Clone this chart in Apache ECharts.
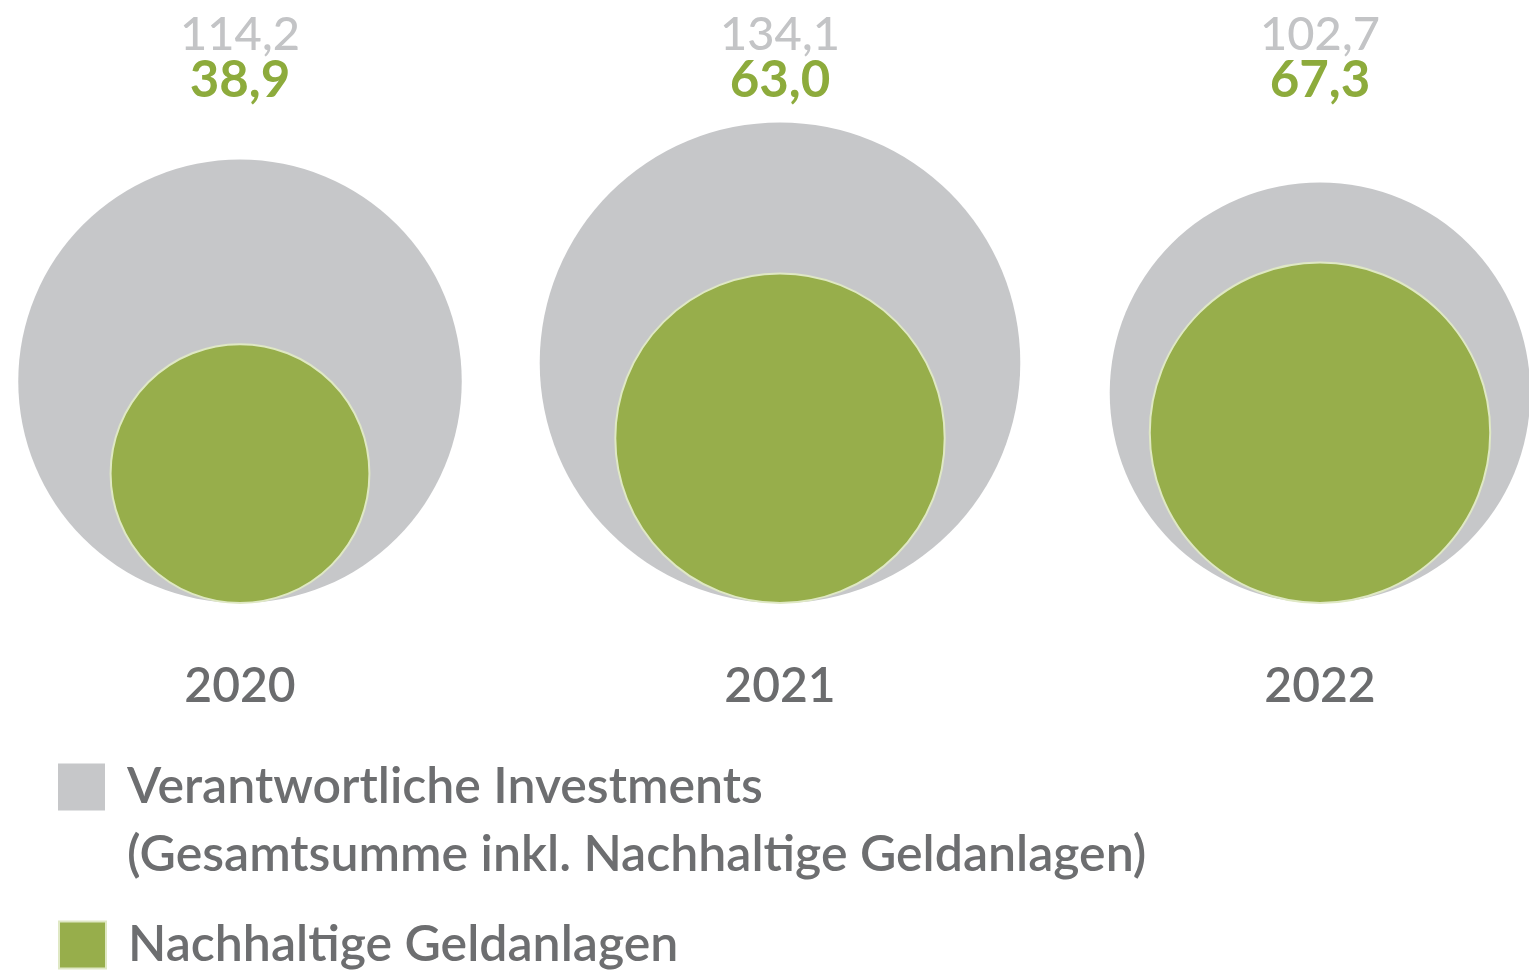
<!DOCTYPE html>
<html>
<head>
<meta charset="utf-8">
<script src="https://cdn.jsdelivr.net/npm/echarts@6/dist/echarts.min.js"></script>
<style>
  html, body { margin: 0; padding: 0; background: #ffffff; }
  #chart { width: 1529px; height: 971px; }
</style>
</head>
<body>
<div id="chart"></div>
<script>
// Jahre und Volumen (Mrd. Euro)
const years = ['2020', '2021', '2022'];
const totalInvest = [114.2, 134.1, 102.7];   // Verantwortliche Investments
const sustainable = [38.9, 63.0, 67.3];      // Nachhaltige Geldanlagen

const GREY = '#c6c7c9';
const GREEN = '#97ae4b';
const SIZE_K = 41.5; // Durchmesser ~ sqrt(Wert) -> Fläche proportional

function fmt (v) {
  return v.toFixed(1).replace('.', ',');
}

const chart = echarts.init(document.getElementById('chart'));

chart.setOption({
  backgroundColor: '#ffffff',
  animation: false,
  textStyle: { fontFamily: 'Lato' },
  grid: {
    left: -30,
    right: -61,
    top: 112,
    bottom: 368,
    outerBoundsMode: 'none',
    containLabel: false
  },
  xAxis: [{
    type: 'category',
    data: years,
    position: 'bottom',
    axisLine: { show: false },
    axisTick: { show: false },
    axisLabel: {
      margin: 60,
      fontSize: 48,
      fontWeight: 600,
      color: '#6b6c6e',
      fontFamily: 'Lato'
    }
  }, {
    type: 'category',
    data: years,
    position: 'top',
    axisLine: { show: false },
    axisTick: { show: false },
    axisLabel: {
      margin: 8,
      fontFamily: 'Lato',
      formatter: function (val, idx) {
        return '{g|' + fmt(totalInvest[idx]) + '}\n{v|' + fmt(sustainable[idx]) + '}';
      },
      rich: {
        g: { fontSize: 47, lineHeight: 46, color: '#c3c4c6', fontWeight: 500, fontFamily: 'Lato' },
        v: { fontSize: 51, lineHeight: 46, color: '#8dab3c', fontWeight: 'bold', fontFamily: 'Lato' }
      }
    }
  }],
  yAxis: {
    type: 'value',
    min: 0,
    max: 1,
    show: false
  },
  legend: [{
    data: ['Verantwortliche Investments'],
    orient: 'vertical',
    left: 58,
    top: 685,
    padding: 0,
    itemWidth: 47,
    itemHeight: 47,
    icon: 'rect',
    selectedMode: false,
    formatter: function (name) {
      // leere erste Zeile: erste Textzeile steht so auf Höhe des Symbols
      return ' \n' + name + '\n(Gesamtsumme inkl. Nachhaltige Geldanlagen)';
    },
    textStyle: {
      fontFamily: 'Lato',
      fontSize: 50,
      fontWeight: 600,
      color: '#6d6e70',
      lineHeight: 68,
      padding: [0, 0, 0, 17]
    }
  }, {
    data: ['Nachhaltige Geldanlagen'],
    orient: 'vertical',
    left: 58,
    top: 920,
    padding: 0,
    itemWidth: 47,
    itemHeight: 47,
    icon: 'rect',
    selectedMode: false,
    textStyle: {
      fontFamily: 'Lato',
      fontSize: 50,
      fontWeight: 600,
      color: '#6d6e70',
      padding: [0, 0, 0, 17]
    }
  }],
  series: [{
    name: 'Verantwortliche Investments',
    type: 'scatter',
    xAxisIndex: 0,
    symbol: 'circle',
    symbolOffset: [0, '-50%'],
    symbolSize: function (val) { return SIZE_K * Math.sqrt(val[2]); },
    itemStyle: { color: GREY, opacity: 1 },
    data: years.map((y, i) => [y, 0, totalInvest[i]]),
    z: 2
  }, {
    name: 'Nachhaltige Geldanlagen',
    type: 'scatter',
    xAxisIndex: 0,
    symbol: 'circle',
    symbolOffset: [0, '-50%'],
    symbolSize: function (val) { return SIZE_K * Math.sqrt(val[2]); },
    itemStyle: { color: GREEN, opacity: 1, borderColor: '#dfe8c4', borderWidth: 2 },
    data: years.map((y, i) => [y, 0, sustainable[i]]),
    z: 3
  }]
});
</script>
</body>
</html>
